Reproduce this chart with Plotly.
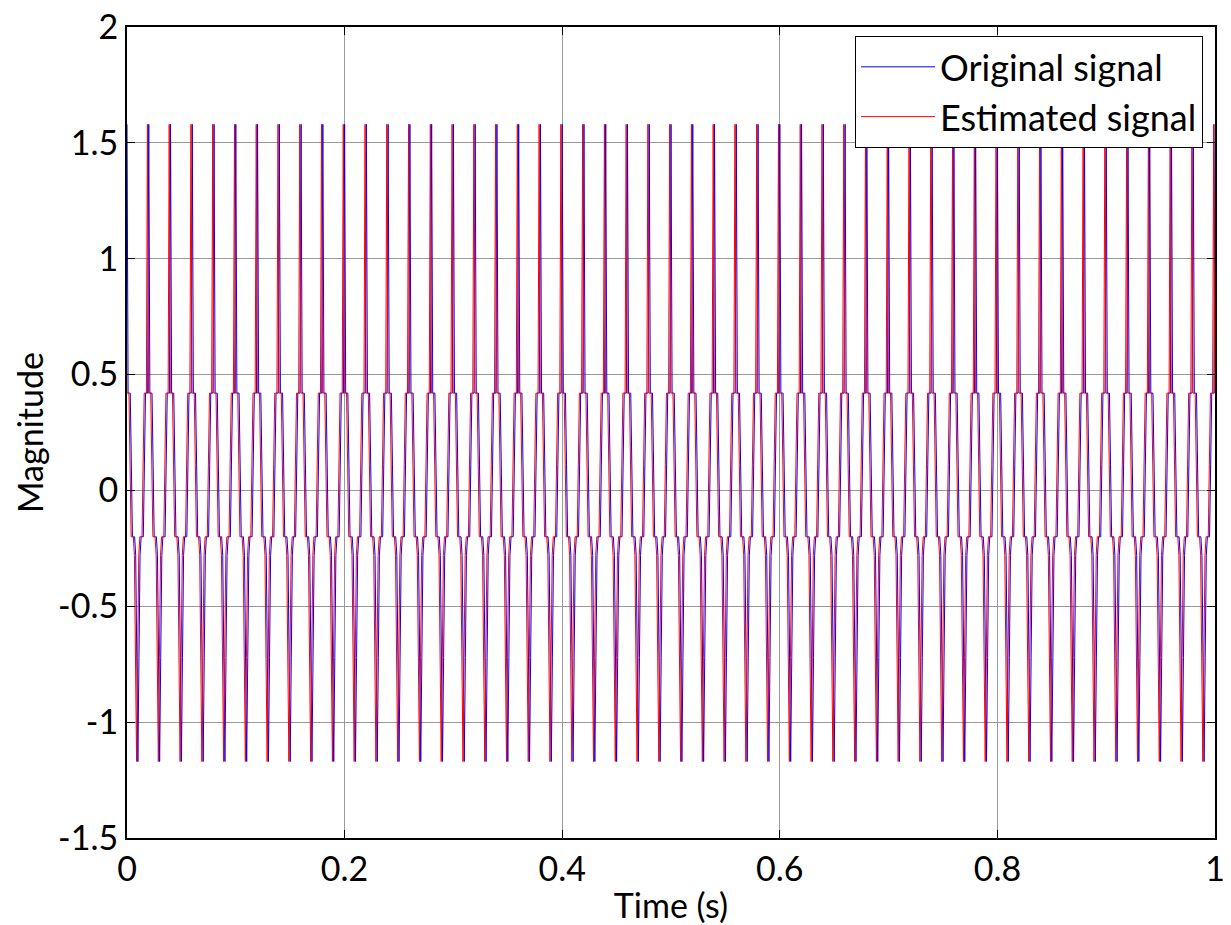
import numpy as np
import plotly.graph_objects as go

# ---- data ----
sample_step = 0.001          # s between samples
n_samples = 1001             # 0 .. 1 s
# one 20-sample cycle (0.02 s) of the waveform, starting at its peak
cycle_values = [1.58, 0.42, 0.42, 0.42, 0.11, -0.20, -0.20, -0.20, -0.28, -0.72,
                -1.17, -0.72, -0.28, -0.20, -0.20, -0.20, 0.11, 0.42, 0.42, 0.42]
estimate_lead = 0.0012       # estimated signal leads the original by ~1.2 ms

x_ticks = [0, 0.2, 0.4, 0.6, 0.8, 1.0]
x_tick_text = ["0", "0.2", "0.4", "0.6", "0.8", "1"]
y_ticks = [-1.5, -1, -0.5, 0, 0.5, 1, 1.5, 2]
y_tick_text = ["-1.5", "-1", "-0.5", "0", "0.5", "1", "1.5", "2"]

# ---- build series ----
reps = n_samples // len(cycle_values) + 2
orig_vals = np.tile(cycle_values, reps)[:n_samples]
t_orig = np.arange(n_samples) * sample_step

n_est = n_samples + 2
est_vals = np.tile(cycle_values, reps)[:n_est]
t_est = np.arange(n_est) * sample_step - estimate_lead

FONT = "Lato"
FS = 34
fig = go.Figure()
fig.add_trace(go.Scatter(x=t_orig, y=orig_vals, mode="lines", name="Original signal",
                         line=dict(color="#0000ff", width=1)))
fig.add_trace(go.Scatter(x=t_est, y=est_vals, mode="lines", name="Estimated signal",
                         line=dict(color="#ff0000", width=1)))

axis_common = dict(showgrid=True, gridcolor="#9a9a9a", gridwidth=1,
                   showline=True, linecolor="black", linewidth=2, mirror="ticks",
                   ticks="inside", ticklen=8, tickcolor="black", tickwidth=1,
                   zeroline=False, automargin=False, ticklabeloverflow="allow",
                   tickfont=dict(family=FONT, size=FS, color="black"))

fig.update_layout(
    width=1223, height=917,
    margin=dict(l=119, r=16, t=19, b=87),
    plot_bgcolor="white", paper_bgcolor="white",
    font=dict(family=FONT, size=FS, color="black"),
    showlegend=True,
    legend=dict(x=0.989, y=0.989, xanchor="right", yanchor="top",
                bordercolor="black", borderwidth=1, bgcolor="white",
                font=dict(family=FONT, size=36, color="black"),
                itemwidth=74, tracegroupgap=0),
    xaxis=dict(range=[0, 1], tickvals=x_ticks, ticktext=x_tick_text,
               title=dict(text="Time (s)", font=dict(family=FONT, size=FS), standoff=10),
               **axis_common),
    yaxis=dict(range=[-1.5, 2], tickvals=y_ticks, ticktext=y_tick_text,
               title=dict(text="Magnitude", font=dict(family=FONT, size=FS), standoff=4),
               **axis_common),
)

fig.write_html("out.html")
